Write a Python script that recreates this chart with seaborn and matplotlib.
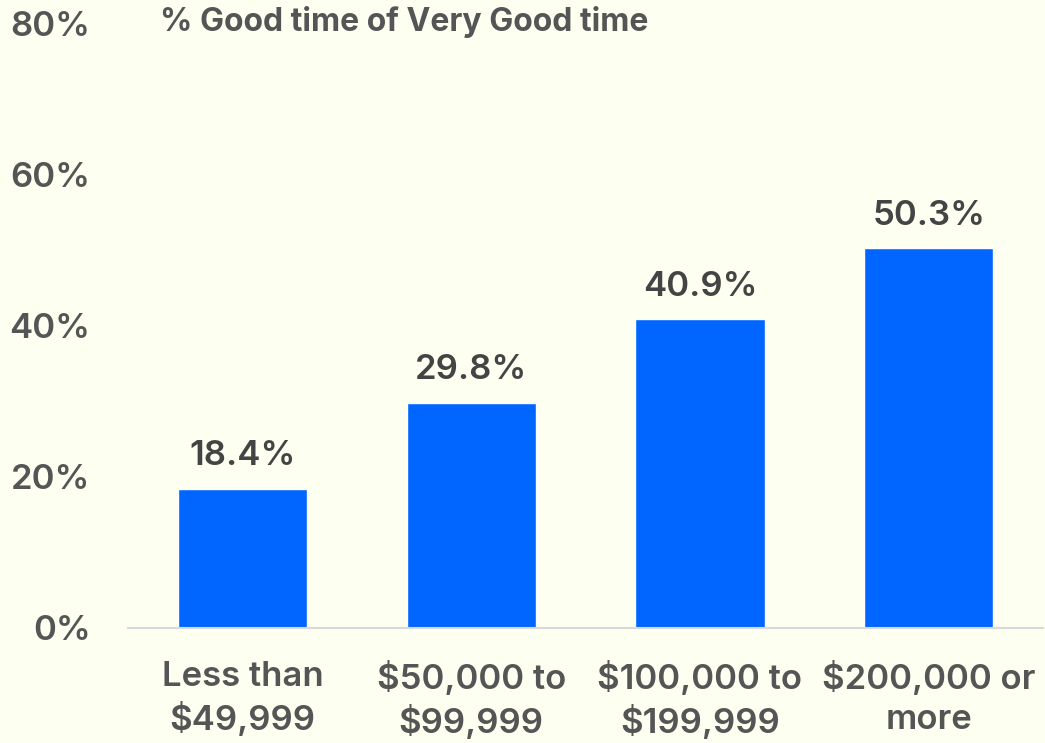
import matplotlib
matplotlib.use("Agg")
import matplotlib.pyplot as plt
import seaborn as sns
import pandas as pd

categories = ["Less than\n$49,999", "$50,000 to\n$99,999", "$100,000 to\n$199,999", "$200,000 or\nmore"]
values = [18.4, 29.8, 40.9, 50.3]
yticks = [0, 20, 40, 60, 80]
title = "% Good time of Very Good time"

bg = "#FDFFF0"
bar_color = "#0066FF"

sns.set_theme(style="white")
plt.rcParams["font.family"] = ["Inter", "DejaVu Sans"]

df = pd.DataFrame({"income": categories, "pct": values})

fig = plt.figure(figsize=(10.45, 7.43), dpi=100, facecolor=bg)
ax = fig.add_axes([0.1225, 0.1548, 0.8756, 0.8129])
ax.set_facecolor(bg)

sns.barplot(data=df, x="income", y="pct", color=bar_color, width=0.565,
            saturation=1, ax=ax)

for i, v in enumerate(values):
    ax.annotate(f"{v:.1f}%", (i, v), xytext=(0, 12), textcoords="offset points",
                ha="center", va="bottom", fontsize=25, color="#444444",
                fontweight="semibold")

ax.set_xlim(-0.5, 3.5)
ax.set_ylim(0, 80)
ax.set_yticks(yticks)
ax.set_yticklabels([f"{t}%" for t in yticks], fontsize=25, color="#555555",
                   fontweight="semibold")
ax.tick_params(axis="y", length=0, pad=27)
ax.tick_params(axis="x", length=0, pad=24, labelsize=25, labelcolor="#555555")
for lbl in ax.get_xticklabels():
    lbl.set_fontweight("semibold")
    lbl.set_linespacing(1.3)
ax.set_xlabel("")
ax.set_ylabel("")

for side in ["top", "right", "left"]:
    ax.spines[side].set_visible(False)
ax.spines["bottom"].set_color("#d9d9d9")
ax.spines["bottom"].set_linewidth(1.5)

fig.text(160 / 1045, 1 - 22 / 743, title, ha="left", va="center",
         fontsize=23, fontweight="bold", color="#555555")

fig.savefig("out.png", dpi=100, facecolor=bg)
